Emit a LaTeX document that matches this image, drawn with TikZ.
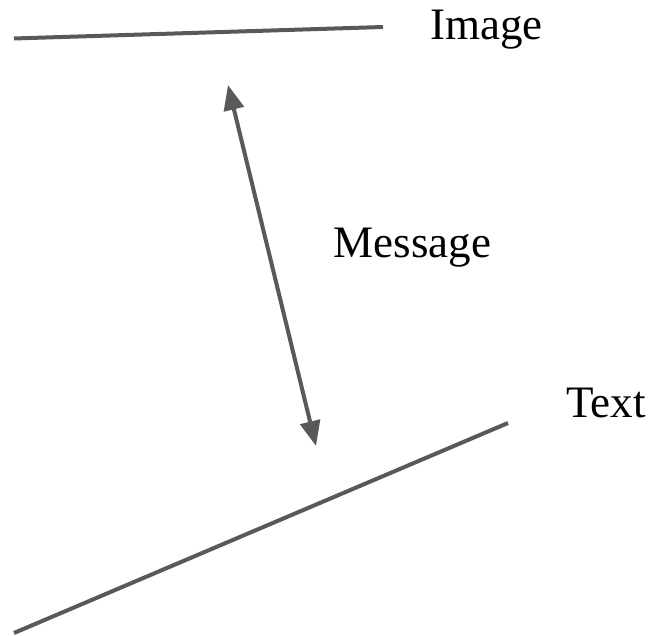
\documentclass[tikz,border=0pt]{standalone}
\usepackage{fontspec}
\setmainfont{Liberation Serif}
\usetikzlibrary{arrows.meta}
\definecolor{linegray}{HTML}{595959}
\tikzset{
	plane/.style={draw=linegray,line width=4pt},
	label/.style={anchor=base,inner sep=0pt,font=\fontsize{45}{52}\selectfont}
}
\begin{document}
\begin{tikzpicture}[x=1pt,y=-1pt]
		\useasboundingbox (0,0) rectangle (654,636);

		\coordinate (imgL) at (14,38.5);
		\coordinate (imgR) at (383,27);
		\coordinate (txtL) at (14,633);
		\coordinate (txtR) at (508,423);
		\coordinate (msgT) at (228,85);
		\coordinate (msgB) at (316,446);

		\draw[plane] (imgL) -- (imgR);
		\draw[plane] (txtL) -- (txtR);

		\draw[plane,{Triangle[length=25pt,width=20pt]}-{Triangle[length=25pt,width=20pt]}] (msgT) -- (msgB);

		\node[label] (image) at (486.5,40) {Image};
		\node[label] (message) at (412.5,258) {Message};
		\node[label] (text) at (606,418) {Text};
\end{tikzpicture}
\end{document}
